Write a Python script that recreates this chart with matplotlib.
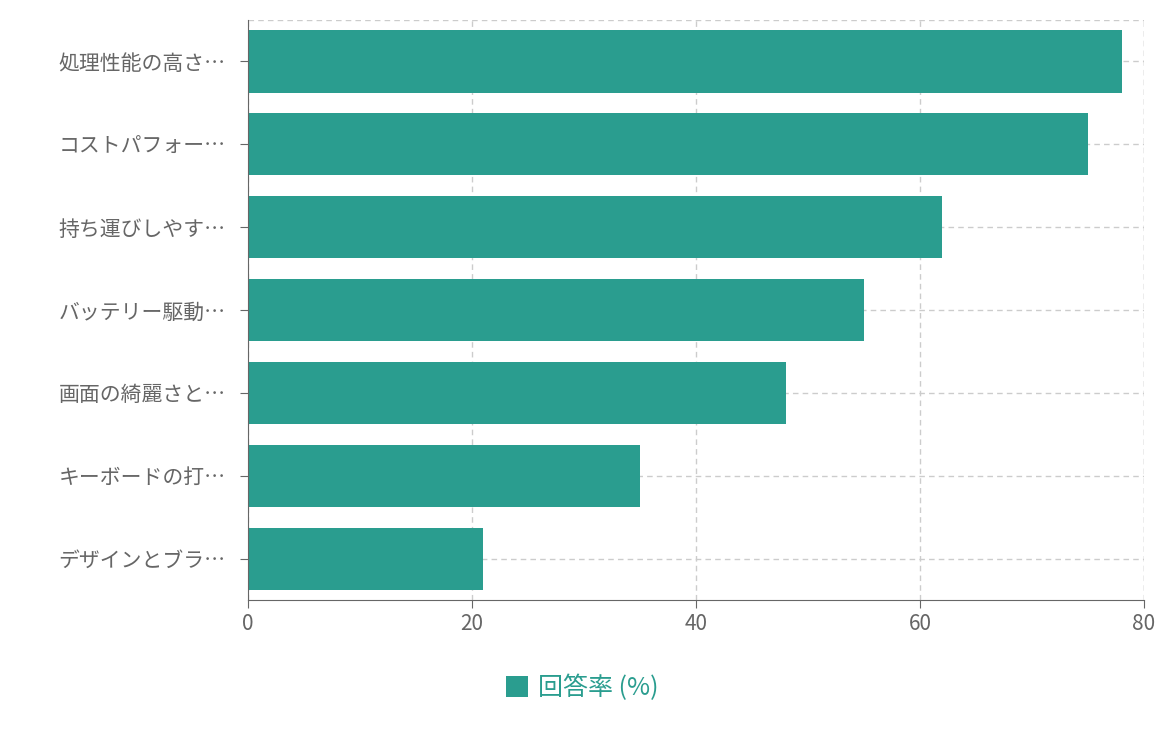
import matplotlib.pyplot as plt

plt.rcParams['font.family'] = ['Noto Sans CJK JP', 'DejaVu Sans']

categories = ["処理性能の高さ…", "コストパフォー…", "持ち運びしやす…", "バッテリー駆動…",
              "画面の綺麗さと…", "キーボードの打…", "デザインとブラ…"]
values = [78, 75, 62, 55, 48, 35, 21]
color = "#2a9d8f"

fig = plt.figure(figsize=(11.64, 7.36), dpi=100)
ax = fig.add_axes([248 / 1164, 1 - 600 / 736, 896 / 1164, 580 / 736])

ypos = list(range(len(categories)))
ax.barh(ypos, values, height=0.75, color=color, label="回答率 (%)", zorder=2)
ax.set_ylim(len(categories) - 0.5, -0.5)
ax.set_xlim(0, 80)
ax.set_xticks([0, 20, 40, 60, 80])
ax.set_yticks(ypos)
ax.set_yticklabels(categories)

ax.grid(True, color="#cccccc", linestyle=(0, (4, 3)), linewidth=1, zorder=0)
for s in ["top", "right"]:
    ax.spines[s].set_visible(False)
for s in ["left", "bottom"]:
    ax.spines[s].set_color("#666666")
ax.axhline(-0.5, color="#cccccc", linestyle=(0, (4, 3)), linewidth=1, zorder=0)
ax.axvline(80, color="#cccccc", linestyle=(0, (4, 3)), linewidth=1, zorder=0)
ax.tick_params(axis="both", colors="#666666", labelsize=15, length=6)
ax.tick_params(axis="y", pad=10)
for t in ax.get_xticklabels() + ax.get_yticklabels():
    t.set_color("#666666")

leg = fig.legend(loc="center", bbox_to_anchor=(582 / 1164, 1 - 688 / 736),
                 frameon=False, fontsize=18, handlelength=0.9, handleheight=0.9,
                 handletextpad=0.4)
for t in leg.get_texts():
    t.set_color(color)

fig.savefig("out.png", dpi=100)
